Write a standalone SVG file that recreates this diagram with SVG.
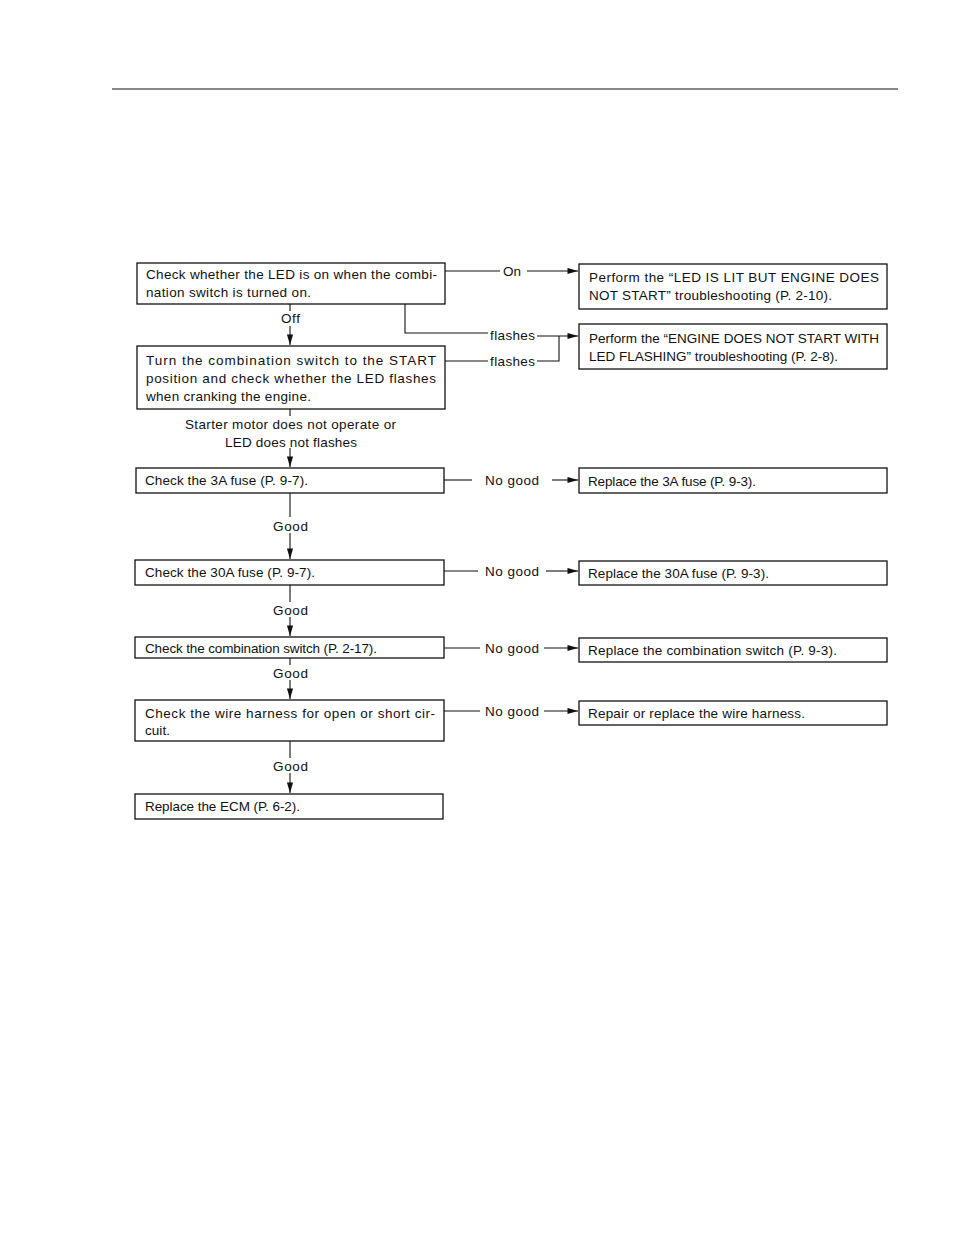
<svg xmlns="http://www.w3.org/2000/svg" width="954" height="1235" viewBox="0 0 954 1235">
<style>
.box{fill:#fff;stroke:#111;stroke-width:1.3}
.t{font-family:"Liberation Sans",Arial,sans-serif;font-size:13.5px;fill:#111}
.c{text-anchor:middle}
.ln{fill:none;stroke:#111;stroke-width:1.1}
</style>
<defs>
<marker id="ah" viewBox="0 0 12 8" refX="12" refY="4" markerWidth="12" markerHeight="7" markerUnits="userSpaceOnUse" orient="auto">
<path d="M0,0.5 L12,4 L0,7.5 Z" fill="#111"/>
</marker>
</defs>
<rect width="954" height="1235" fill="#fff"/>
<line x1="112" y1="89" x2="898" y2="89" stroke="#111" stroke-width="1.2"/>

<g id="connectors">
<path class="ln" d="M445,271 H500"/>
<path class="ln" d="M527,271 H578" marker-end="url(#ah)"/>
<path class="ln" d="M405,304 V333 H488"/>
<path class="ln" d="M537,336 H578" marker-end="url(#ah)"/>
<path class="ln" d="M445,361 H488"/>
<path class="ln" d="M537,361 H559 V336"/>
<path class="ln" d="M290,304 V311"/>
<path class="ln" d="M290,326 V345" marker-end="url(#ah)"/>
<path class="ln" d="M290,409 V416"/>
<path class="ln" d="M290,448 V467" marker-end="url(#ah)"/>
<path class="ln" d="M290,493 V517"/>
<path class="ln" d="M290,533 V559" marker-end="url(#ah)"/>
<path class="ln" d="M290,585 V602"/>
<path class="ln" d="M290,617 V636" marker-end="url(#ah)"/>
<path class="ln" d="M290,658 V665"/>
<path class="ln" d="M290,680 V699" marker-end="url(#ah)"/>
<path class="ln" d="M290,741 V758"/>
<path class="ln" d="M290,773 V793" marker-end="url(#ah)"/>
<path class="ln" d="M444,480 H472"/>
<path class="ln" d="M552,480 H578" marker-end="url(#ah)"/>
<path class="ln" d="M444,571 H478"/>
<path class="ln" d="M546,571 H578" marker-end="url(#ah)"/>
<path class="ln" d="M444,648 H480"/>
<path class="ln" d="M544,648 H578" marker-end="url(#ah)"/>
<path class="ln" d="M444,711 H480"/>
<path class="ln" d="M544,711 H578" marker-end="url(#ah)"/>
<text class="t" x="503" y="276" textLength="18">On</text>
<text class="t" x="490" y="340" textLength="45">flashes</text>
<text class="t" x="490" y="366" textLength="45">flashes</text>
<text class="t" x="281" y="323" textLength="19">Off</text>
<text class="t" x="185" y="429" textLength="211">Starter motor does not operate or</text>
<text class="t" x="225" y="447" textLength="132">LED does not flashes</text>
<text class="t" x="273" y="531" textLength="35">Good</text>
<text class="t" x="273" y="615" textLength="35">Good</text>
<text class="t" x="273" y="678" textLength="35">Good</text>
<text class="t" x="273" y="771" textLength="35">Good</text>
<text class="t" x="485" y="485" textLength="54">No good</text>
<text class="t" x="485" y="576" textLength="54">No good</text>
<text class="t" x="485" y="653" textLength="54">No good</text>
<text class="t" x="485" y="716" textLength="54">No good</text>
</g>

<g id="n1">
<rect class="box" x="137" y="263" width="308" height="41"/>
<text class="t" x="146" y="279" textLength="291" lengthAdjust="spacing">Check whether the LED is on when the combi-</text>
<text class="t" x="146" y="297" textLength="165">nation switch is turned on.</text>
</g>
<g id="n2">
<rect class="box" x="579" y="264" width="308" height="45"/>
<text class="t" x="589" y="282" textLength="290" lengthAdjust="spacing">Perform the “LED IS LIT BUT ENGINE DOES</text>
<text class="t" x="589" y="300" textLength="243">NOT START” troubleshooting (P. 2-10).</text>
</g>
<g id="n3">
<rect class="box" x="579" y="324" width="308" height="45"/>
<text class="t" x="589" y="343" textLength="290" lengthAdjust="spacing">Perform the “ENGINE DOES NOT START WITH</text>
<text class="t" x="589" y="361" textLength="249">LED FLASHING” troubleshooting (P. 2-8).</text>
</g>
<g id="n4">
<rect class="box" x="137" y="346" width="308" height="63"/>
<text class="t" x="146" y="365" textLength="290" lengthAdjust="spacing">Turn the combination switch to the START</text>
<text class="t" x="146" y="383" textLength="290" lengthAdjust="spacing">position and check whether the LED flashes</text>
<text class="t" x="146" y="401" textLength="165">when cranking the engine.</text>
</g>
<g id="n5">
<rect class="box" x="136" y="468" width="308" height="25"/>
<text class="t" x="145" y="485" textLength="163">Check the 3A fuse (P. 9-7).</text>
</g>
<g id="n6">
<rect class="box" x="579" y="468" width="308" height="25"/>
<text class="t" x="588" y="486" textLength="168">Replace the 3A fuse (P. 9-3).</text>
</g>
<g id="n7">
<rect class="box" x="135" y="560" width="309" height="25"/>
<text class="t" x="145" y="577" textLength="170">Check the 30A fuse (P. 9-7).</text>
</g>
<g id="n8">
<rect class="box" x="579" y="561" width="308" height="24"/>
<text class="t" x="588" y="578" textLength="181">Replace the 30A fuse (P. 9-3).</text>
</g>
<g id="n9">
<rect class="box" x="135" y="637" width="309" height="21"/>
<text class="t" x="145" y="653" textLength="232">Check the combination switch (P. 2-17).</text>
</g>
<g id="n10">
<rect class="box" x="579" y="638" width="308" height="24"/>
<text class="t" x="588" y="655" textLength="249">Replace the combination switch (P. 9-3).</text>
</g>
<g id="n11">
<rect class="box" x="135" y="700" width="309" height="41"/>
<text class="t" x="145" y="718" textLength="290" lengthAdjust="spacing">Check the wire harness for open or short cir-</text>
<text class="t" x="145" y="735" textLength="25">cuit.</text>
</g>
<g id="n12">
<rect class="box" x="579" y="701" width="308" height="24"/>
<text class="t" x="588" y="718" textLength="217">Repair or replace the wire harness.</text>
</g>
<g id="n13">
<rect class="box" x="135" y="794" width="308" height="25"/>
<text class="t" x="145" y="811" textLength="155">Replace the ECM (P. 6-2).</text>
</g>
</svg>
